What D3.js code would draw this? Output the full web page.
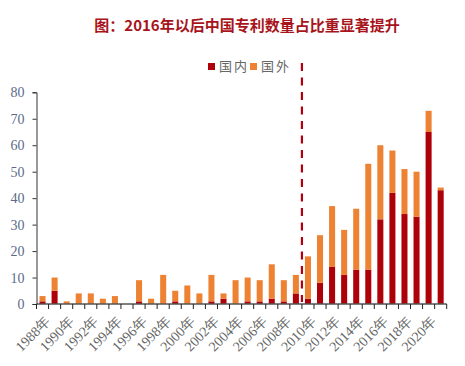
<!DOCTYPE html>
<html><head><meta charset="utf-8">
<script src="https://cdn.jsdelivr.net/npm/d3@7"></script>
<style>body{margin:0;background:#fff;}svg{display:block;}</style>
</head><body>
<svg id="c" width="465" height="366"></svg>
<script>
const years = d3.range(1988, 2022).map(String);
const totals =   [3,10,1,4,4,2,3,0,9,2,11,5,7,4,11,4,9,10,9,15,9,11,18,26,37,28,36,53,60,58,51,50,73,44];
const domestic = [1,5,0,0,0,0,0,0,1,0,0,1,0,0,1,2,0,1,1,2,1,4,2,8,14,11,13,13,32,42,34,33,65,43];
const foreign = totals.map((t,i)=>t-domestic[i]);
const seriesNames = ["国内","国外"];
const yTicks = [0,10,20,30,40,50,60,70,80];
const colors = ["#AE0009","#EE8233"];

const svg = d3.select("#c");
const m = {l:36.5, r:446.7, t:92.3, b:304};
const x = d3.scaleBand().domain(years).range([m.l, m.r]).paddingInner(0.5).paddingOuter(0.25);
const y = d3.scaleLinear().domain([0,80]).range([m.b, m.t]);

svg.append("text").attr("x",247).attr("y",31).attr("text-anchor","middle")
  .attr("font-family","'Noto Sans CJK SC', sans-serif").attr("font-weight","bold")
  .attr("font-size",15).attr("fill","#A8141C").text("图：2016年以后中国专利数量占比重显著提升");

const data = years.map((yr,i)=>({yr, d:domestic[i], f:foreign[i]}));
const stack = d3.stack().keys(["d","f"])(data);
svg.append("g").selectAll("g").data(stack).join("g").attr("fill",(s,i)=>colors[i])
  .selectAll("rect").data(s=>s).join("rect")
  .attr("x",d=>x(d.data.yr)).attr("width",x.bandwidth())
  .attr("y",d=>y(d[1])).attr("height",d=>y(d[0])-y(d[1]));

// y axis
const ya = svg.append("g").attr("transform",`translate(${m.l},0)`)
  .call(d3.axisLeft(y).tickValues(yTicks).tickSize(4).tickPadding(8));
ya.select(".domain").attr("stroke","#333");
ya.selectAll(".tick line").attr("stroke","#333");
ya.selectAll("text").attr("font-family","'Liberation Serif', serif").attr("font-size",14).attr("fill","#5A6B8A");

// x axis
const step = x.step();
const xa = svg.append("g").attr("transform",`translate(0,${m.b})`);
xa.append("line").attr("x1",m.l).attr("x2",m.r).attr("stroke","#555").attr("stroke-width",1.5);
const tickPos = d3.range(years.length+1).map(i=>m.l + i*step);
xa.selectAll("line.t").data(tickPos).join("line").attr("class","t")
  .attr("x1",d=>d).attr("x2",d=>d).attr("y1",0).attr("y2",5).attr("stroke","#222");
xa.selectAll("text").data(years.filter((d,i)=>i%2===0)).join("text")
  .attr("transform",d=>`translate(${x(d)+x.bandwidth()/2+5},${15}) rotate(-45)`)
  .attr("text-anchor","end").attr("dy","0.35em")
  .attr("font-family","'Liberation Serif', serif").attr("font-size",14).attr("fill","#666")
  .text(d=>d+"年");

// dashed line between 2009 and 2010
const xd = x("2010") - (step - x.bandwidth())/2;
svg.append("line").attr("x1",xd).attr("x2",xd).attr("y1",63).attr("y2",y(0)-2)
  .attr("stroke","#B00010").attr("stroke-width",2.2).attr("stroke-dasharray","8,6.5");

// legend
const lg = svg.append("g").attr("font-family","'Noto Sans CJK SC', sans-serif").attr("font-size",13).attr("fill","#666");
const lx = [208, 250];
seriesNames.forEach((n,i)=>{
  lg.append("rect").attr("x",lx[i]).attr("y",63).attr("width",7).attr("height",7).attr("fill",colors[i]);
  lg.append("text").attr("x",lx[i]+11).attr("y",71).attr("letter-spacing",2).text(n);
});
</script>
</body></html>
